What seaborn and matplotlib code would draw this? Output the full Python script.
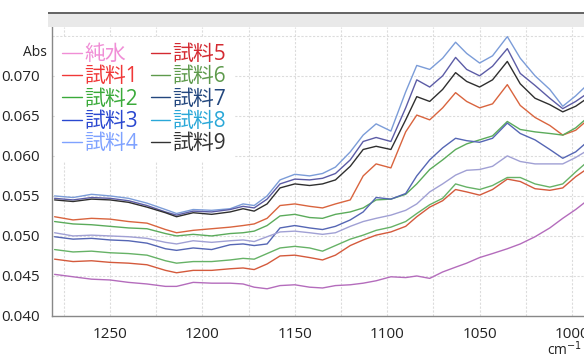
import pandas as pd
import matplotlib.pyplot as plt
import seaborn as sns
from matplotlib.patches import Rectangle
from matplotlib.ticker import MultipleLocator, FixedLocator

# 波数 (cm-1)
wavenumber = [1280, 1270, 1260, 1250, 1240, 1230, 1220, 1214, 1205, 1195,
              1185, 1178, 1172, 1165, 1158, 1150, 1142, 1135, 1128, 1120,
              1113, 1106, 1098, 1090, 1084, 1077, 1070, 1063, 1057, 1050,
              1043, 1035, 1028, 1020, 1012, 1005, 998, 993]

pure_water = [0.0452, 0.0449, 0.0446, 0.0445, 0.0442, 0.0440, 0.0437, 0.0437, 0.0442, 0.0441,
              0.0441, 0.0440, 0.0436, 0.0434, 0.0438, 0.0439, 0.0436, 0.0435, 0.0438, 0.0439,
              0.0441, 0.0444, 0.0449, 0.0448, 0.0450, 0.0447, 0.0455, 0.0461, 0.0466, 0.0473,
              0.0478, 0.0484, 0.0490, 0.0499, 0.0510, 0.0522, 0.0533, 0.0542]
sample1 = [0.0524, 0.0520, 0.0522, 0.0521, 0.0518, 0.0516, 0.0508, 0.0504, 0.0507, 0.0509,
           0.0511, 0.0513, 0.0515, 0.0522, 0.0538, 0.0540, 0.0537, 0.0535, 0.0540, 0.0545,
           0.0575, 0.0590, 0.0585, 0.0630, 0.0651, 0.0645, 0.0660, 0.0679, 0.0668, 0.0660,
           0.0665, 0.0689, 0.0663, 0.0648, 0.0638, 0.0626, 0.0632, 0.0642]
sample2 = [0.0518, 0.0515, 0.0514, 0.0512, 0.0510, 0.0509, 0.0503, 0.0500, 0.0502, 0.0500,
           0.0503, 0.0504, 0.0506, 0.0513, 0.0525, 0.0527, 0.0523, 0.0522, 0.0527, 0.0530,
           0.0535, 0.0545, 0.0546, 0.0552, 0.0565, 0.0583, 0.0595, 0.0608, 0.0615, 0.0620,
           0.0625, 0.0643, 0.0633, 0.0630, 0.0628, 0.0626, 0.0635, 0.0645]
sample3 = [0.0499, 0.0496, 0.0497, 0.0495, 0.0494, 0.0491, 0.0484, 0.0482, 0.0485, 0.0483,
           0.0489, 0.0490, 0.0488, 0.0490, 0.0510, 0.0513, 0.0510, 0.0508, 0.0512, 0.0520,
           0.0530, 0.0548, 0.0546, 0.0553, 0.0575, 0.0595, 0.0610, 0.0622, 0.0619, 0.0617,
           0.0622, 0.0641, 0.0628, 0.0620, 0.0608, 0.0597, 0.0605, 0.0615]
sample4 = [0.0550, 0.0548, 0.0552, 0.0550, 0.0547, 0.0541, 0.0533, 0.0528, 0.0533, 0.0532,
           0.0534, 0.0540, 0.0538, 0.0550, 0.0570, 0.0577, 0.0575, 0.0578, 0.0586, 0.0605,
           0.0626, 0.0640, 0.0631, 0.0680, 0.0713, 0.0708, 0.0722, 0.0742, 0.0728, 0.0716,
           0.0725, 0.0749, 0.0722, 0.0700, 0.0683, 0.0662, 0.0675, 0.0686]
sample5 = [0.0471, 0.0468, 0.0469, 0.0467, 0.0466, 0.0464, 0.0457, 0.0454, 0.0457, 0.0457,
           0.0459, 0.0460, 0.0458, 0.0465, 0.0475, 0.0476, 0.0473, 0.0470, 0.0476, 0.0488,
           0.0495, 0.0501, 0.0505, 0.0512, 0.0524, 0.0536, 0.0544, 0.0558, 0.0555, 0.0551,
           0.0558, 0.0571, 0.0568, 0.0559, 0.0557, 0.0560, 0.0574, 0.0582]
sample6 = [0.0483, 0.0480, 0.0481, 0.0479, 0.0478, 0.0476, 0.0469, 0.0466, 0.0468, 0.0468,
           0.0470, 0.0472, 0.0471, 0.0478, 0.0485, 0.0487, 0.0485, 0.0481, 0.0488, 0.0496,
           0.0501, 0.0507, 0.0511, 0.0518, 0.0528, 0.0539, 0.0547, 0.0565, 0.0561, 0.0558,
           0.0563, 0.0573, 0.0573, 0.0565, 0.0561, 0.0565, 0.0580, 0.0590]
sample7 = [0.0547, 0.0545, 0.0548, 0.0547, 0.0544, 0.0538, 0.0530, 0.0526, 0.0531, 0.0530,
           0.0533, 0.0537, 0.0535, 0.0546, 0.0565, 0.0571, 0.0570, 0.0572, 0.0578, 0.0595,
           0.0618, 0.0623, 0.0618, 0.0660, 0.0695, 0.0686, 0.0700, 0.0723, 0.0708, 0.0700,
           0.0712, 0.0734, 0.0703, 0.0688, 0.0672, 0.0659, 0.0668, 0.0676]
sample8 = [0.0504, 0.0500, 0.0501, 0.0500, 0.0499, 0.0497, 0.0492, 0.0490, 0.0494, 0.0492,
           0.0494, 0.0495, 0.0493, 0.0499, 0.0505, 0.0506, 0.0504, 0.0502, 0.0504, 0.0512,
           0.0518, 0.0522, 0.0526, 0.0532, 0.0540, 0.0555, 0.0565, 0.0576, 0.0582, 0.0583,
           0.0587, 0.0600, 0.0593, 0.0590, 0.0590, 0.0590, 0.0598, 0.0605]
sample9 = [0.0545, 0.0543, 0.0546, 0.0545, 0.0542, 0.0536, 0.0529, 0.0524, 0.0529, 0.0527,
           0.0530, 0.0534, 0.0531, 0.0540, 0.0560, 0.0565, 0.0563, 0.0565, 0.0570, 0.0587,
           0.0608, 0.0612, 0.0608, 0.0645, 0.0674, 0.0668, 0.0683, 0.0704, 0.0693, 0.0686,
           0.0695, 0.0718, 0.0690, 0.0672, 0.0664, 0.0655, 0.0662, 0.0670]

names = ["純水", "試料1", "試料2", "試料3", "試料4", "試料5", "試料6", "試料7", "試料8", "試料9"]
series = [pure_water, sample1, sample2, sample3, sample4, sample5, sample6, sample7, sample8, sample9]
y_ticks = [0.040, 0.045, 0.050, 0.055, 0.060, 0.065, 0.070]

line_colors = ["#b46cbc", "#d9643e", "#5bab5b", "#5566b4", "#7b9cd8",
               "#d45a3c", "#66b266", "#5c5ca6", "#a0a0d4", "#2f2f2f"]
legend_colors = ["#f08ed6", "#f03838", "#3aaa3a", "#2a48d0", "#7fa2ff",
                 "#d42a32", "#5e9a4c", "#23477e", "#2aa8d8", "#333333"]

df = pd.concat([pd.DataFrame({"wn": wavenumber, "abs": v, "name": n})
                for n, v in zip(names, series)], ignore_index=True)

sns.set_theme(style="white")
plt.rcParams["font.family"] = ["Open Sans", "Noto Sans CJK JP", "DejaVu Sans"]

fig = plt.figure(figsize=(5.84, 3.58), dpi=100)
ax = fig.add_axes([52 / 584, 42 / 358, 532 / 584, 289 / 358])

sns.lineplot(data=df, x="wn", y="abs", hue="name", hue_order=names,
             palette=dict(zip(names, line_colors)), sort=False, estimator=None,
             linewidth=1.0, ax=ax)

ax.set_xlim(1281.4, 993.5)
ax.set_ylim(0.040, 0.0761)
ax.set_xlabel("")
ax.set_ylabel("")

ax.xaxis.set_major_locator(MultipleLocator(50))
ax.xaxis.set_minor_locator(MultipleLocator(5))
ax.yaxis.set_major_locator(FixedLocator(y_ticks))
ax.yaxis.set_minor_locator(MultipleLocator(0.001))
ax.yaxis.set_major_formatter(plt.FuncFormatter(lambda v, p: f"{v:.3f}"))

# グリッド (25 cm-1, 0.005 ごと)
for gx in range(1275, 990, -25):
    ax.axvline(gx, color="#dcdcdc", lw=0.8, ls=(0, (2, 1.5)), zorder=0)
for gy in y_ticks[1:] + [0.075]:
    ax.axhline(gy, color="#dcdcdc", lw=0.8, ls=(0, (2, 1.5)), zorder=0)

ax.tick_params(axis="both", which="both", colors="#777777", labelcolor="#222222",
               labelsize=11, width=0.8)
ax.tick_params(axis="y", which="major", direction="out", length=6, pad=3)
ax.tick_params(axis="y", which="minor", direction="out", length=4)
ax.tick_params(axis="x", which="major", direction="in", length=6, pad=8)
ax.tick_params(axis="x", which="minor", direction="in", length=3)
for s in ["top", "right"]:
    ax.spines[s].set_visible(False)
for s in ["left", "bottom"]:
    ax.spines[s].set_color("#888888")
    ax.spines[s].set_linewidth(1.0)

# 上部の灰色帯
fig.patches.append(Rectangle((48 / 584, 331 / 358), 536 / 584, 14 / 358,
                             transform=fig.transFigure, facecolor="#e9e9e9",
                             edgecolor="none", zorder=0))
fig.patches.append(Rectangle((48 / 584, 344 / 358), 536 / 584, 1.5 / 358,
                             transform=fig.transFigure, facecolor="#666666",
                             edgecolor="none", zorder=1))

fig.text(47 / 584, 1 - 52 / 358, "Abs", ha="right", va="center", fontsize=10, color="#222222")
fig.text(582 / 584, 1 - 350 / 358, "cm$^{-1}$", ha="right", va="center", fontsize=10, color="#222222")

handles, labels = ax.get_legend_handles_labels()
leg = ax.legend(handles, labels, ncol=2, loc="upper left",
                bbox_to_anchor=(0.006, 0.966), borderaxespad=0, frameon=True,
                fontsize=15, handlelength=0.95, handletextpad=0.1,
                columnspacing=0.6, labelspacing=0.06, borderpad=0.35)
leg.get_frame().set_facecolor("white")
leg.get_frame().set_edgecolor("none")
leg.get_frame().set_alpha(1)
for h, t, c in zip(leg.get_lines(), leg.get_texts(), legend_colors):
    h.set_color(c)
    h.set_linewidth(1.0)
    t.set_color(c)

fig.savefig("out.png", dpi=100)
